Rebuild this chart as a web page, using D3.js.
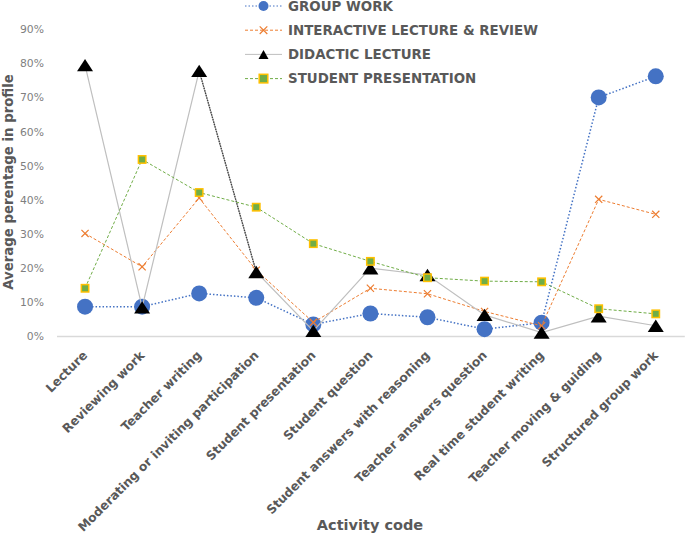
<!DOCTYPE html>
<html><head><meta charset="utf-8">
<script src="https://cdn.jsdelivr.net/npm/d3@7"></script>
<style>
body{margin:0;background:#fff;}
svg{display:block;font-family:"DejaVu Sans",sans-serif;}
</style></head>
<body><svg id="c" width="685" height="536"></svg>
<script>
const categories = ["Lecture","Reviewing work","Teacher writing","Moderating or inviting participation","Student presentation","Student question","Student answers with reasoning","Teacher answers question","Real time student writing","Teacher moving & guiding","Structured group work"];
const groupWork = [8.6, 8.6, 12.5, 11.2, 3.4, 6.6, 5.5, 2.0, 3.9, 70.0, 76.2];
const interactive = [30.1, 20.3, 40.5, 19.3, 4.0, 14.0, 12.4, 7.2, 3.0, 40.1, 35.7];
const didactic = [79.5, 8.4, 77.8, 18.8, 1.5, 19.9, 17.9, 6.2, 1.0, 5.8, 3.0];
const studentPres = [14.0, 51.8, 42.1, 37.8, 27.1, 21.9, 17.1, 16.1, 15.9, 8.0, 6.5];
const yTicks = [0,10,20,30,40,50,60,70,80,90];
const seriesNames = ["GROUP WORK","INTERACTIVE LECTURE & REVIEW","DIDACTIC LECTURE","STUDENT PRESENTATION"];

const svg = d3.select("#c");
const x = d3.scaleBand().domain(categories).range([56.5, 684.3]);
const y = d3.scaleLinear().domain([0, 90]).range([336, 29.3]);
const cx = c => x(c) + x.bandwidth()/2;

// y tick labels
const yAxis = d3.axisLeft(y).tickValues(yTicks).tickFormat(d => d + "%").tickSize(0).tickPadding(0);
const ya = svg.append("g").attr("transform","translate(44,0)").call(yAxis);
ya.select(".domain").remove();
ya.selectAll("text").attr("fill","#7f7f7f").style("font-size","10.8px").style("font-family","'DejaVu Sans',sans-serif");

// x axis baseline
const xAxis = d3.axisBottom(x).tickSize(0).tickFormat("");
const xa = svg.append("g").attr("transform","translate(0,336)").call(xAxis);
xa.select(".domain").attr("stroke","#d9d9d9").attr("stroke-width",1.3);

// x category labels
svg.append("g").selectAll("text").data(categories).join("text")
  .attr("transform", d => `translate(${cx(d)-3},${350}) rotate(-45)`)
  .attr("text-anchor","end").attr("dy","0.7em")
  .attr("fill","#595959").style("font-size","12.3px").style("font-weight","bold")
  .text(d => d);

// titles
svg.append("text").attr("transform","translate(8,182) rotate(-90)").attr("text-anchor","middle").attr("dy","0.36em")
  .attr("fill","#595959").style("font-size","13.3px").style("font-weight","bold").text("Average perentage in profile");
svg.append("text").attr("x",370).attr("y",530).attr("text-anchor","middle")
  .attr("fill","#595959").style("font-size","14.5px").style("font-weight","bold").text("Activity code");

const styles = [
  {color:"#4472c4", dash:"1.5,2", width:1.5, marker:"circle"},
  {color:"#ed7d31", dash:"3,2", width:1, marker:"x"},
  {color:"#bfbfbf", dash:null, width:1.2, marker:"triangle"},
  {color:"#70ad47", dash:"3,2", width:1, marker:"square"}
];
const data = [groupWork, interactive, didactic, studentPres];
const line = d3.line().x((d,i) => cx(categories[i])).y(d => y(d));

function drawMarker(g, type, px, py, legend) {
  if (type === "circle") {
    g.append("circle").attr("cx",px).attr("cy",py).attr("r", legend?5:8).attr("fill","#4472c4");
  } else if (type === "x") {
    const s = legend?3.8:3.6;
    g.append("path").attr("d",`M${px-s},${py-s}L${px+s},${py+s}M${px-s},${py+s}L${px+s},${py-s}`)
      .attr("stroke","#ed7d31").attr("stroke-width",1.2).attr("fill","none");
  } else if (type === "triangle") {
    const w = legend?5:8, h = legend?4.5:6.2;
    g.append("path").attr("d",`M${px},${py-h}L${px+w},${py+h}L${px-w},${py+h}Z`).attr("fill","#000");
  } else {
    const s = legend?4.3:3.7;
    g.append("rect").attr("x",px-s).attr("y",py-s).attr("width",2*s).attr("height",2*s)
      .attr("fill","#70ad47").attr("stroke","#ffc000").attr("stroke-width",1.5);
  }
}

data.forEach((vals, si) => {
  const st = styles[si];
  const g = svg.append("g");
  g.append("path").datum(vals).attr("d", line).attr("fill","none")
    .attr("stroke", st.color).attr("stroke-width", st.width)
    .attr("stroke-dasharray", st.dash);
  if (si === 2) {
    // darker dotted segment between Teacher writing and Moderating
    g.append("path").datum(vals.slice(2,4)).attr("d", d3.line().x((d,i)=>cx(categories[i+2])).y(d=>y(d)))
      .attr("fill","none").attr("stroke","#404040").attr("stroke-width",1.3).attr("stroke-dasharray","1.5,1");
  }
  vals.forEach((v,i) => drawMarker(g, st.marker, cx(categories[i]), y(v), false));
});

// legend
const lg = svg.append("g");
seriesNames.forEach((name, i) => {
  const st = styles[i];
  const ly = 6 + i*24.2;
  lg.append("line").attr("x1",245).attr("x2",282).attr("y1",ly).attr("y2",ly)
    .attr("stroke",st.color).attr("stroke-width",1).attr("stroke-dasharray",st.dash);
  drawMarker(lg, st.marker, 263.5, ly, true);
  lg.append("text").attr("x",288).attr("y",ly).attr("dy","0.36em")
    .attr("fill","#595959").style("font-size","13.4px").style("font-weight","bold").text(name);
});
</script></body></html>
